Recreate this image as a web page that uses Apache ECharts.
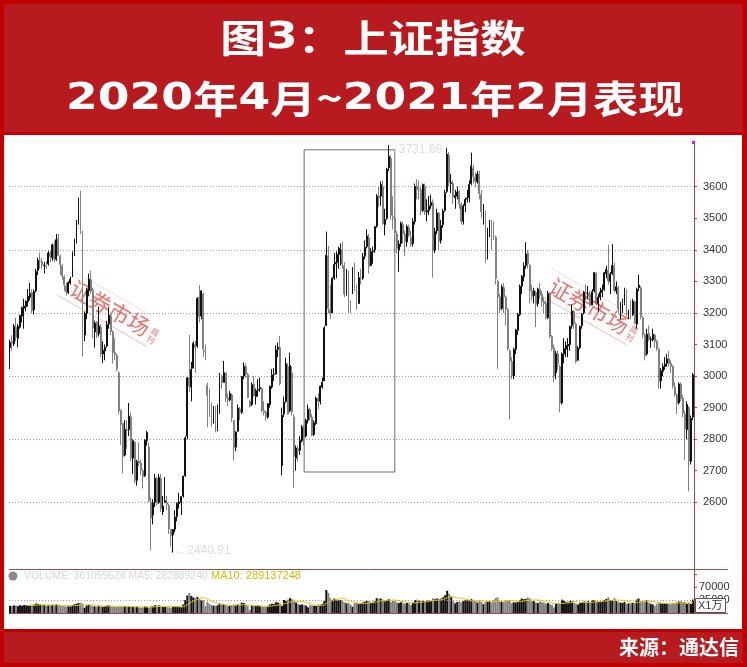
<!DOCTYPE html>
<html><head><meta charset="utf-8">
<script src="https://cdn.jsdelivr.net/npm/echarts@6/dist/echarts.min.js"></script>
<style>html,body{margin:0;padding:0;background:#c00000}#c{width:747px;height:667px}</style>
</head><body><div id="c"></div><script>
// weekly candles: [open, close, low, high]
const kline = [
[3090,3107,3022,3115],[3110,3105,3080,3130],[3102,3158,3095,3165],[3155,3123,3110,3185],[3120,3158,3091,3165],
[3155,3192,3150,3195],[3190,3217,3170,3220],[3215,3222,3150,3245],[3220,3237,3205,3240],[3235,3253,3220,3276],
[3250,3262,3240,3296],[3265,3208,3200,3275],[3210,3268,3195,3275],[3270,3331,3265,3340],[3335,3367,3320,3375],
[3365,3365,3340,3390],[3362,3353,3340,3375],[3350,3352,3325,3362],[3350,3348,3340,3365],[3355,3390,3350,3396],
[3390,3378,3360,3397],[3375,3416,3365,3420],[3415,3371,3360,3429],[3370,3432,3365,3450],[3435,3382,3380,3450],
[3380,3353,3320,3385],[3350,3317,3305,3355],[3315,3289,3270,3320],[3285,3266,3255,3295],[3265,3297,3260,3300],
[3295,3307,3290,3315],
[3314,3391,3314,3395],[3391,3428,3380,3435],[3430,3487,3420,3495],[3490,3558,3480,3565],[3560,3462,3450,3587],
[3450,3129,3062,3460],[3130,3199,3110,3205],[3200,3273,3180,3280],[3270,3307,3255,3325],[3305,3269,3260,3335],
[3270,3152,3120,3280],[3140,3168,3090,3175],[3170,3131,3120,3175],[3135,3159,3125,3220],[3155,3071,3060,3165],
[3070,3082,3041,3110],[3080,3091,3050,3100],[3095,3163,3090,3175],[3165,3193,3150,3219],[3190,3141,3130,3200],
[3140,3075,3040,3145],[3075,3067,3050,3120],[3065,3022,3015,3070],[3010,2889,2880,3015],[2890,2847,2782,2895],
[2850,2747,2691,2850],[2750,2831,2745,2860],[2830,2829,2770,2860],[2830,2873,2810,2915],[2870,2740,2730,2885],
[2740,2795,2690,2800],[2790,2669,2660,2795],[2670,2729,2653,2735],[2730,2725,2715,2790],[2725,2702,2685,2735],
[2700,2682,2644,2705],[2685,2797,2680,2800],[2795,2821,2780,2827],[2775,2606,2600,2790],[2600,2550,2449,2615],
[2560,2598,2530,2610],[2600,2676,2585,2690],[2675,2598,2590,2680],[2600,2679,2595,2690],[2675,2579,2570,2690],
[2570,2588,2560,2620],[2600,2605,2600,2680],[2600,2594,2575,2620],[2590,2516,2500,2595],[2515,2494,2460,2515],
[2497,2514,2440.91,2515],[2515,2553,2505,2575],[2555,2596,2540,2600],[2595,2601,2580,2630],[2600,2618,2560,2620],
[2620,2682,2615,2685],[2685,2804,2680,2810],[2810,2994,2800,2997],[2995,2969,2950,3130],[2965,3021,2920,3045],
[3025,3104,3025,3110],[3100,3090,3010,3110],[3095,3246,3090,3250],[3250,3189,3170,3288],[3190,3270,3180,3271],
[3260,3086,3060,3265],[3080,3078,3050,3100],[2970,2939,2838,2980],[2940,2882,2870,2960],[2880,2852,2840,2915],
[2850,2898,2850,2905],[2900,2827,2822,2905],[2830,2881,2825,2910],[2885,3001,2880,3010],[3000,2979,2960,3003],
[2980,3011,2980,3048],[3010,2930,2918,3010],[2930,2924,2905,2945],[2925,2944,2920,2953],[2940,2868,2855,2945],
[2860,2774,2733,2860],[2775,2823,2762,2825],[2825,2898,2825,2910],[2895,2886,2860,2902],[2885,2999,2880,3000],
[3000,3031,2990,3043],[3030,3006,2995,3040],[3005,2932,2930,3010],[2920,2905,2900,2925],[2910,2973,2905,2980],
[2975,2938,2935,3000],[2935,2954,2910,2960],[2955,2958,2935,2990],[2960,2964,2950,2995],[2960,2891,2885,2965],
[2890,2885,2875,2920],[2885,2871,2858,2890],[2870,2912,2865,2915],[2910,2967,2900,2970],[2965,3004,2960,3022],
[3005,3005,2985,3025],
[3006,3083,3006,3098],[3085,3092,3060,3106],[3090,2976,2970,3127],[2716,2876,2685,2900],[2880,2917,2870,2935],
[2920,3039,2915,3058],[3030,2880,2878,3040],[2890,3034,2885,3074],[3010,2887,2875,3030],[2870,2745,2646,2880],
[2740,2772,2700,2780],[2770,2764,2730,2780],[2765,2796,2750,2810],[2795,2838,2790,2845],[2835,2809,2780,2845],
[2810,2860,2805,2865],[2860,2895,2850,2910],[2895,2868,2860,2900],[2870,2813,2810,2880],[2815,2852,2810,2860],
[2850,2930,2845,2935],[2930,2920,2895,2945],[2920,2968,2910,2970],[2965,2980,2960,2995],[2985,3153,2985,3158],
[3160,3383,3160,3458],[3380,3214,3200,3412],[3210,3197,3180,3290],[3200,3310,3200,3313],[3310,3354,3305,3390],
[3355,3360,3310,3395],[3360,3386,3340,3410],[3385,3404,3350,3420],[3400,3355,3340,3425],[3350,3260,3250,3360],
[3260,3338,3255,3340],[3330,3219,3200,3335],[3220,3218,3200,3240],[3260,3336,3260,3345],[3335,3278,3270,3360],
[3275,3225,3210,3290],[3230,3312,3230,3330],[3310,3310,3290,3340],[3310,3378,3305,3390],[3380,3408,3370,3430],
[3410,3444,3405,3465],[3440,3347,3325,3450],[3350,3395,3350,3405],[3395,3397,3356,3410],[3400,3473,3390,3475],
[3475,3570,3470,3577],[3570,3566,3535,3600],
[3570,3607,3540,3617],[3600,3483,3480,3620],[3480,3496,3446,3530],[3500,3655,3495,3660],[3660,3696,3650,3731.69],
[3690,3509,3495,3700],[3505,3502,3465,3570],[3500,3454,3390,3530],[3450,3405,3390,3460],[3400,3418,3330,3430],
[3420,3484,3410,3490],[3480,3451,3420,3490],[3450,3426,3380,3460],[3425,3474,3410,3480],[3470,3447,3440,3480],
[3440,3418,3410,3460],[3420,3490,3410,3500],[3490,3601,3480,3610],[3600,3592,3560,3624],[3590,3590,3560,3620],
[3590,3525,3510,3600],[3525,3607,3520,3610],[3600,3519,3510,3610],[3520,3525,3490,3560],[3525,3539,3510,3570],
[3540,3550,3530,3575],[3550,3397,3312,3560],[3400,3458,3390,3470],[3460,3517,3450,3530],[3515,3427,3400,3520],
[3430,3477,3420,3495],[3480,3522,3470,3530],[3525,3581,3520,3590],[3585,3703,3580,3723],[3700,3613,3600,3710],
[3610,3613,3580,3640],[3610,3568,3545,3620],[3565,3572,3530,3590],[3570,3583,3560,3600],[3585,3547,3530,3590],
[3545,3491,3480,3550],[3490,3539,3480,3545],[3540,3560,3520,3565],[3560,3564,3550,3590],[3565,3607,3550,3620],
[3610,3666,3605,3708],[3660,3632,3610,3670],[3630,3618,3600,3645],[3615,3640,3610,3650],[3640,3579,3560,3650],
[3575,3521,3500,3590],[3520,3522,3480,3545],[3520,3361,3357,3525],[3370,3462,3370,3470],[3460,3491,3440,3495],
[3490,3451,3400,3495],[3450,3447,3430,3490],[3440,3309,3290,3445],[3300,3251,3023,3305],[3250,3212,3200,3260],
[3215,3282,3210,3290],[3280,3251,3200,3295],[3250,3211,3160,3255],[3210,3087,3080,3215],[3080,3047,2863,3085],
[3045,3001,2990,3060],[3000,3084,2990,3090],[3085,3146,3070,3150],[3145,3195,3130,3200],[3195,3285,3190,3290],
[3285,3316,3260,3320],[3315,3349,3300,3360],[3350,3387,3340,3424],[3390,3356,3340,3400],[3350,3270,3230,3355],
[3270,3253,3240,3290],[3255,3270,3230,3280],[3265,3227,3155,3270],[3230,3276,3220,3280],[3275,3258,3245,3295],
[3260,3236,3220,3270],[3235,3230,3200,3250],[3230,3186,3180,3240],[3185,3262,3180,3270],[3260,3126,3120,3265],
[3125,3088,3080,3130],[3090,3000,2980,3100],[3010,3071,2990,3080],[3070,3038,3020,3080],[3030,2915,2885,3035],
[2915,3070,2910,3075],[3070,3087,3040,3120],[3085,3097,3060,3110],[3095,3101,3060,3120],[3100,3156,3080,3160],
[3160,3206,3150,3226],[3205,3167,3150,3210],[3165,3045,3040,3170],[3050,3089,3050,3095],[3090,3157,3085,3160],
[3160,3195,3150,3200],[3200,3265,3195,3270],[3265,3263,3240,3290],[3260,3261,3245,3285],[3260,3224,3220,3270],
[3225,3267,3225,3275],[3270,3328,3265,3330],[3325,3230,3225,3330],[3230,3250,3205,3260],[3250,3266,3240,3280],
[3265,3273,3250,3290],[3275,3327,3270,3330],[3325,3338,3310,3350],[3335,3301,3290,3415],[3300,3323,3260,3330],
[3325,3350,3320,3418],[3350,3272,3265,3360],[3270,3283,3260,3300],[3280,3212,3200,3285],[3210,3230,3180,3235],
[3230,3231,3200,3245],[3230,3273,3225,3280],[3270,3197,3190,3275],[3195,3202,3180,3210],[3200,3196,3180,3240],
[3195,3237,3190,3245],[3235,3167,3165,3240],[3165,3275,3150,3280],[3280,3288,3270,3322],[3280,3189,3180,3285],
[3185,3131,3120,3190],[3130,3064,3050,3135],[3070,3133,3065,3150],[3135,3116,3110,3160],[3115,3117,3090,3125],
[3115,3132,3110,3150],[3130,3110,3090,3135],[3110,3088,3080,3115],[3085,2983,2960,3090],[2985,3017,2960,3025],
[3015,3030,3000,3040],[3030,3038,3020,3060],[3040,3054,3030,3070],[3055,3040,3030,3080],[3040,3031,3010,3050],
[3030,2969,2960,3035],[2965,2942,2935,2980],[2940,2914,2880,2945],[2915,2975,2910,2980],[2975,2929,2920,2980],
[2930,2882,2870,2940],[2880,2833,2735,2890],[2830,2910,2800,2920],[2900,2730,2635,2905],[2730,2866,2720,2875],
[2870,3004,2860,3010]
];
// weekly volume (x1万)
const volumes = [
19500,19000,20500,20000,18500,21000,19500,21500,20500,20000,
22000,21000,22500,25500,24500,23000,21500,21000,19500,20500,
20000,21500,21000,23000,22000,20000,19000,18000,17500,18000,
17500,21500,23500,25000,27000,27500,25500,14000,20000,21500,
20500,19000,18000,17000,18500,18000,16500,17500,20000,20500,
19000,17500,17000,16500,18000,18500,17500,18000,17000,18000,
16500,16000,15500,16500,15000,14500,15000,18000,16500,14500,
18500,18000,21000,19500,20500,18000,16000,16500,15500,15000,
14500,17000,18000,17500,17500,16500,23000,35000,47000,54000,
46000,42000,39000,43000,38000,35000,34000,18000,30000,24000,
21000,20000,19500,20500,25000,23000,24500,21000,19000,19500,
21000,22000,20000,23000,21500,28000,27000,22000,19000,8000,
20000,19500,18500,19000,18000,17000,16000,16500,19500,23000,
25000,24000,29000,28000,26000,19000,35000,32000,36000,40000,
37000,33000,28000,24000,22000,23000,21500,20000,15000,21000,
20000,19500,19000,23000,22000,24000,32000,62000,54000,40000,
35000,39000,36000,34000,35000,32000,29000,26000,27000,23000,
17000,26000,28000,24000,26000,28000,30000,33000,32000,28000,
27000,32000,40000,38000,39000,36000,31000,35000,37000,29000,
33000,32000,28000,27000,29000,26000,26000,27000,26000,22000,
28000,35000,36000,33000,32000,33000,32000,34000,33000,32000,
40000,37000,39000,38000,39000,42000,48000,60000,52000,44000,
32000,26000,30000,31000,29000,32000,35000,36000,35000,37000,
34000,32000,28000,33000,30000,24000,29000,31000,32000,28000,
34000,40000,42000,32000,30000,29000,32000,35000,33000,26000,
29000,28000,30000,35000,39000,37000,38000,42000,39000,32000,
32000,28000,27000,31000,29000,28000,25000,27000,24000,21000,
15000,26000,28000,27000,36000,33000,30000,29000,32000,31000,
27000,24000,23000,27000,29000,31000,30000,32000,29000,34000,
35000,31000,29000,30000,32000,35000,38000,42000,35000,34000,
40000,32000,29000,28000,27000,30000,24000,26000,26000,27000,
26000,36000,39000,32000,31000,33000,34000,28000,25000,23000,
19000,24000,29000,26000,25000,26000,27000,25000,24000,26000,
27000,28500,30500,31692,30000,30000,24500,26500,24339,36106
];
const priceLabels = [2600,2700,2800,2900,3000,3100,3200,3300,3400,3500,3600];
const priceGridLines = [2600,2800,3000,3200,3400,3600];
const volumeLabels = [35000,70000];
const weeks = kline.map((_, i) => String(i));
const ma10 = volumes.map((v, i) => i < 9 ? '-' : Math.round(volumes.slice(i - 9, i + 1).reduce((a, b) => a + b, 0) / 10));

const AX = '#9b4a4a';
const UP = '#111111', DOWN = '#808080';
const FONT = '"Liberation Sans", Arial';
const chart = echarts.init(document.getElementById('c'), null, {renderer: 'canvas'});
const wm = (cx, cy) => ({
  type: 'group', x: cx, y: cy, rotation: -0.52, z: 50, silent: true,
  children: [
    {type: 'text', x: 0, y: 0, style: {text: '证券市场', font: '22px "Noto Sans CJK SC"', fill: 'rgba(228,64,64,0.75)', align: 'center', verticalAlign: 'middle', textAlign: 'center', textVerticalAlign: 'middle'}},
    {type: 'text', x: 51, y: 3, style: {text: '周\n刊', font: '8px "Noto Sans CJK SC"', fill: 'rgba(228,64,64,0.75)', align: 'center', verticalAlign: 'middle', textAlign: 'center', textVerticalAlign: 'middle', lineHeight: 9}},
    {type: 'line', shape: {x1: -52, y1: 15, x2: 52, y2: 15}, style: {stroke: 'rgba(228,64,64,0.45)', lineWidth: 0.7}},
    {type: 'line', shape: {x1: -52, y1: -14, x2: 40, y2: -14}, style: {stroke: 'rgba(228,64,64,0.3)', lineWidth: 0.6}}
  ]
});
const titleRich = {
  c: {font: 'bold 38px "Noto Sans CJK SC"', fill: '#fff', color: '#fff'},
  d: {font: 'bold 38px "DejaVu Sans"', fill: '#fff', color: '#fff'}
};
const hiddenAxis = {axisLine: {show: false, onZero: false}, axisTick: {show: false}, axisLabel: {show: false}, splitLine: {show: false}};
chart.setOption({
  animation: false,
  backgroundColor: '#c00000',
  graphic: [
    {type: 'rect', z: -100, silent: true, shape: {x: 4, y: 4, width: 739, height: 128}, style: {fill: '#b71b1f'}},
    {type: 'rect', z: -100, silent: true, shape: {x: 4, y: 135, width: 738, height: 494}, style: {fill: '#ffffff'}},
    {type: 'rect', z: -100, silent: true, shape: {x: 4, y: 632, width: 739, height: 31}, style: {fill: '#b71b1f'}},
    {type: 'text', x: 373, y: 38, scaleX: 1.2, z: 10, style: {text: '{c|图}{d|3}{c|：上证指数}', rich: titleRich, align: 'center', verticalAlign: 'middle', textAlign: 'center', textVerticalAlign: 'middle'}},
    {type: 'text', x: 375, y: 99, scaleX: 1.2, z: 10, style: {text: '{d|2020}{c|年}{d|4}{c|月~}{d|2021}{c|年}{d|2}{c|月表现}', rich: titleRich, align: 'center', verticalAlign: 'middle', textAlign: 'center', textVerticalAlign: 'middle'}},
    {type: 'text', x: 739, y: 647, z: 10, style: {text: '来源：通达信', font: 'bold 20px "Noto Sans CJK SC"', fill: '#fff', align: 'right', verticalAlign: 'middle', textAlign: 'right', textVerticalAlign: 'middle'}},
    {type: 'line', z: 5, silent: true, shape: {x1: 9, y1: 569.5, x2: 728, y2: 569.5}, style: {stroke: AX, lineWidth: 1}},
    {type: 'line', z: 5, silent: true, shape: {x1: 9, y1: 613.5, x2: 728, y2: 613.5}, style: {stroke: AX, lineWidth: 1}},
    {type: 'rect', z: 5, silent: true, shape: {x: 692, y: 141, width: 3, height: 3}, style: {fill: '#ff00ff'}},
    {type: 'circle', z: 5, silent: true, shape: {cx: 13, cy: 576, r: 4.5}, style: {fill: '#8a8a8a'}},
    {type: 'text', x: 24, y: 576, z: 5, style: {text: 'VOLUME: 361059628 MA5: 282889240', font: '10.4px ' + FONT, fill: '#d6d6d6', verticalAlign: 'middle', textVerticalAlign: 'middle'}},
    {type: 'text', x: 211, y: 576, z: 5, style: {text: 'MA10: 289137248', font: '11px ' + FONT, fill: '#d8b800', verticalAlign: 'middle', textVerticalAlign: 'middle'}},
    {type: 'rect', z: 20, silent: true, shape: {x: 695.5, y: 598.5, width: 30, height: 14}, style: {fill: '#fff', stroke: '#555', lineWidth: 1}},
    {type: 'text', x: 698, y: 606, z: 21, style: {text: 'X1万', font: '11px "Liberation Sans", "Noto Sans CJK SC"', fill: '#333', verticalAlign: 'middle', textVerticalAlign: 'middle'}},
    wm(110, 308),
    wm(589, 306)
  ],
  grid: [
    {left: 9, top: 143, width: 685, height: 426},
    {left: 9, top: 186.7, width: 685, height: 315.6},
    {left: 9, top: 186.7, width: 685, height: 315.6},
    {left: 9, top: 569, width: 685, height: 44}
  ],
  xAxis: [
    Object.assign({type: 'category', gridIndex: 0, data: weeks}, hiddenAxis),
    Object.assign({type: 'category', gridIndex: 1, data: ['']}, hiddenAxis),
    Object.assign({type: 'category', gridIndex: 2, data: ['']}, hiddenAxis),
    Object.assign({type: 'category', gridIndex: 3, data: weeks}, hiddenAxis)
  ],
  yAxis: [
    {type: 'value', gridIndex: 0, position: 'right', min: 2388.7, max: 3738.5,
     axisLine: {show: true, onZero: false, lineStyle: {color: AX, width: 1}}, axisTick: {show: false}, axisLabel: {show: false}, splitLine: {show: false}},
    {type: 'value', gridIndex: 1, position: 'right', min: priceLabels[0], max: priceLabels[priceLabels.length - 1], interval: priceLabels[1] - priceLabels[0],
     axisLine: {show: false, onZero: false}, axisTick: {show: true, length: 3, lineStyle: {color: AX}},
     axisLabel: {show: true, margin: 9, color: '#333', fontSize: 11, fontFamily: FONT, formatter: v => String(v)}, splitLine: {show: false}},
    {type: 'value', gridIndex: 2, position: 'right', min: priceGridLines[0], max: priceGridLines[priceGridLines.length - 1], interval: priceGridLines[1] - priceGridLines[0],
     axisLine: {show: false, onZero: false}, axisTick: {show: false}, axisLabel: {show: false},
     splitLine: {show: true, lineStyle: {color: '#c48a8a', type: [1, 2], width: 1}}},
    {type: 'value', gridIndex: 3, position: 'right', min: 0, max: 44 * volumeLabels[0] / 13, interval: volumeLabels[0],
     axisLine: {show: true, onZero: false, lineStyle: {color: AX}}, axisTick: {show: true, length: 3, lineStyle: {color: AX}},
     axisLabel: {show: true, margin: 5, color: '#333', fontSize: 11, fontFamily: FONT,
       formatter: v => volumeLabels.includes(v) ? String(v) : ''}, splitLine: {show: false}}
  ],
  series: [
    {type: 'candlestick', xAxisIndex: 0, yAxisIndex: 0, data: kline, barWidth: 1.4, large: false,
     itemStyle: {color: UP, color0: DOWN, borderColor: UP, borderColor0: DOWN, borderWidth: 1},
     markArea: {silent: true, itemStyle: {color: 'rgba(0,0,0,0)', borderColor: '#6e6e6e', borderWidth: 1},
       data: [[{xAxis: '146', yAxis: 3717}, {xAxis: '191', yAxis: 2696}]]},
     markPoint: {silent: true, symbol: 'circle', symbolSize: 0,
       label: {show: true, position: 'right', distance: 0, color: '#dedede', fontSize: 12, fontFamily: FONT,
         formatter: p => '\u2190' + p.value},
       data: [
         {type: 'max', valueDim: 'highest', label: {offset: [-2, 5]}},
         {type: 'min', valueDim: 'lowest', label: {offset: [2, -2]}}
       ]}},
    {type: 'bar', xAxisIndex: 3, yAxisIndex: 3, data: volumes, barWidth: 2, barGap: '0%',
     itemStyle: {color: p => kline[p.dataIndex][1] >= kline[p.dataIndex][0] ? UP : DOWN},
     markLine: {silent: true, symbol: 'none', label: {show: false}, lineStyle: {color: '#c48a8a', type: [1, 2], width: 1},
       data: [{yAxis: volumeLabels[0]}]}},
    {type: 'line', xAxisIndex: 3, yAxisIndex: 3, data: ma10, showSymbol: false, symbol: 'none',
     lineStyle: {color: '#e6c700', width: 1}, z: 5}
  ]
});
</script></body></html>
